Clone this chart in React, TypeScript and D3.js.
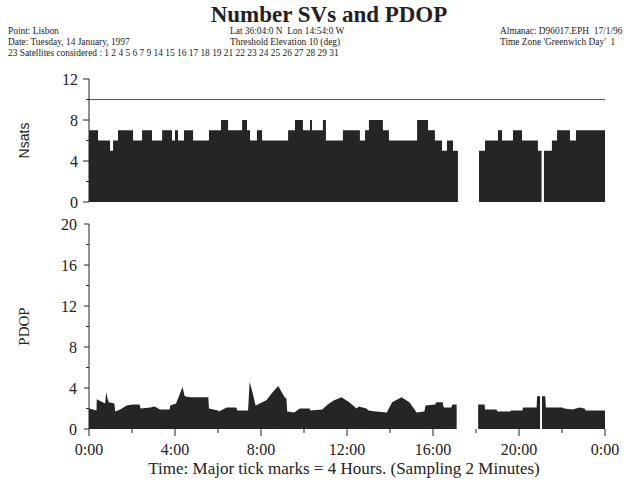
import React from 'react';
import * as d3 from 'd3';

// ---- data ----
const nsatsHours = [0, 0.42, 0.98, 1.12, 1.35, 2.05, 2.47, 2.93, 3.40, 3.86, 4.00, 4.14, 4.42, 4.84, 5.58, 6.14, 6.47, 7.12, 7.35, 7.49, 7.81, 8.05, 9.26, 9.58, 9.95, 10.28, 10.37, 10.88, 11.02, 11.81, 12.60, 12.84, 13.02, 13.67, 13.95, 15.26, 15.77, 16.09, 16.42, 16.65, 16.93, 17.16, 17.17, 18.14, 18.42, 19.02, 19.21, 19.72, 20.14, 20.88, 21.05, 21.06, 21.16, 21.53, 21.77, 22.37, 22.65, 24.0];
const nsatsValues: (number | null)[] = [7, 6, 5, 6, 7, 6, 7, 6, 7, 6, 7, 6, 7, 6, 7, 8, 7, 8, 7, 6, 7, 6, 7, 8, 7, 8, 7, 8, 6, 7, 6, 7, 8, 7, 6, 8, 7, 6, 5, 6, 5, 5, null, 5, 6, 7, 6, 7, 6, 5, 5, null, 5, 6, 7, 6, 7, 7];

const pdopHours = [0, 0.35, 0.36, 0.75, 0.80, 0.86, 0.92, 1.18, 1.22, 1.45, 1.75, 2.05, 2.35, 2.40, 2.85, 3.05, 3.30, 3.75, 3.78, 4.05, 4.35, 4.45, 4.70, 5.55, 5.58, 6.00, 6.05, 6.40, 6.85, 6.90, 7.40, 7.47, 7.60, 7.75, 8.25, 8.55, 8.80, 9.10, 9.18, 9.22, 9.55, 9.80, 10.25, 10.30, 10.85, 11.10, 11.40, 11.75, 12.10, 12.45, 12.55, 12.90, 13.00, 13.35, 13.85, 14.10, 14.54, 14.90, 15.24, 15.60, 15.65, 16.10, 16.15, 16.45, 16.50, 16.85, 16.90, 17.10, 17.11, 18.10, 18.40, 18.42, 18.95, 19.00, 19.60, 19.62, 20.15, 20.20, 20.82, 20.84, 20.98, 20.99, 21.07, 21.22, 21.25, 22.00, 22.10, 22.50, 22.80, 23.05, 23.10, 24.00];
const pdopValues: (number | null)[] = [2.0, 1.8, 2.9, 2.5, 3.6, 3.0, 2.6, 2.5, 1.7, 1.9, 2.3, 2.4, 2.4, 2.0, 2.1, 2.2, 1.9, 1.9, 2.3, 2.5, 4.1, 3.2, 3.1, 3.1, 2.0, 1.8, 1.7, 2.1, 2.1, 1.8, 1.8, 4.6, 3.6, 2.3, 2.8, 3.6, 4.2, 3.1, 3.0, 1.7, 1.6, 2.0, 2.0, 1.8, 1.9, 2.4, 2.8, 3.1, 2.6, 2.0, 2.2, 2.0, 1.8, 1.7, 1.6, 2.6, 3.1, 2.6, 1.6, 1.7, 2.3, 2.4, 2.6, 2.6, 2.1, 2.1, 2.4, 2.4, null, 2.4, 2.4, 1.9, 1.9, 1.7, 1.7, 1.8, 1.8, 2.1, 2.1, 3.2, 3.2, null, 3.2, 3.2, 2.1, 2.1, 2.0, 1.9, 2.1, 2.0, 1.8, 1.8];

const thresholdLine = 10;
const xMajorTicks = [0, 4, 8, 12, 16, 20, 24];
const xMinorTicks = [2, 6, 10, 14, 18, 22];
const xTickLabels = ['0:00', '4:00', '8:00', '12:00', '16:00', '20:00', '0:00'];
const nsatsMajorTicks = [0, 4, 8, 12];
const nsatsMinorTicks = [2, 6, 10];
const pdopMajorTicks = [0, 4, 8, 12, 16, 20];
const pdopMinorTicks = [2, 6, 10, 14, 18];

const titleText = 'Number SVs and PDOP';
const headerCol1 = ['Point: Lisbon', 'Date: Tuesday, 14 January, 1997', '23 Satellites considered : 1 2 4 5 6 7 9 14 15 16 17 18 19 21 22 23 24 25 26 27 28 29 31'];
const headerCol2 = ['Lat 36:04:0 N  Lon 14:54:0 W', 'Threshold Elevation 10 (deg)'];
const headerCol3 = ['Almanac: D96017.EPH  17/1/96', "Time Zone 'Greenwich Day'  1"];
const xAxisTitle = 'Time: Major tick marks = 4 Hours. (Sampling 2 Minutes)';

const serif = '"Liberation Serif", "Times New Roman", serif';
const sans = '"Liberation Sans", Arial, sans-serif';
const ink = '#222';
const fillInk = '#252525';

export default function App() {
  const x = d3.scaleLinear().domain([0, 24]).range([89, 605]);
  const yN = d3.scaleLinear().domain([0, 12]).range([202, 79]);
  const yP = d3.scaleLinear().domain([0, 20]).range([429, 224]);

  const nsData = nsatsHours.map((h, i) => [h, nsatsValues[i]] as [number, number | null]);
  const pdData = pdopHours.map((h, i) => [h, pdopValues[i]] as [number, number | null]);

  const nsArea = d3.area<[number, number | null]>()
    .defined(d => d[1] != null)
    .x(d => x(d[0]))
    .y0(yN(0))
    .y1(d => yN(d[1] as number))
    .curve(d3.curveStepAfter);

  const pdArea = d3.area<[number, number | null]>()
    .defined(d => d[1] != null)
    .x(d => x(d[0]))
    .y0(yP(0))
    .y1(d => yP(d[1] as number))
    .curve(d3.curveLinear);

  return (
    <svg width={630} height={482} style={{ position: 'absolute', left: 0, top: 0, background: '#fff' }}>
      <rect x={0} y={0} width={630} height={482} fill="#fff" />
      {/* Title */}
      <text x={329} y={22} textAnchor="middle" fontFamily={serif} fontWeight="bold" fontSize={23} fill={ink}>{titleText}</text>
      {headerCol1.map((t, i) => (
        <text key={'c1' + i} x={8} y={34 + i * 11} fontFamily={serif} fontSize={9.4} fill={ink} xmlSpace="preserve" style={{ whiteSpace: 'pre' }}>{t}</text>
      ))}
      {headerCol2.map((t, i) => (
        <text key={'c2' + i} x={230} y={34 + i * 11} fontFamily={serif} fontSize={9.4} fill={ink} xmlSpace="preserve" style={{ whiteSpace: 'pre' }}>{t}</text>
      ))}
      {headerCol3.map((t, i) => (
        <text key={'c3' + i} x={500} y={34 + i * 11} fontFamily={serif} fontSize={9.4} fill={ink} xmlSpace="preserve" style={{ whiteSpace: 'pre' }}>{t}</text>
      ))}

      {/* Nsats panel */}
      <path d={nsArea(nsData) || ''} fill={fillInk} />
      <line x1={x(0)} x2={x(24)} y1={yN(thresholdLine)} y2={yN(thresholdLine)} stroke="#555" strokeWidth={1} />
      <line x1={x(0)} x2={x(0)} y1={yN(12)} y2={yN(0)} stroke={ink} strokeWidth={1} />
      {nsatsMajorTicks.map(v => (
        <g key={'nm' + v}>
          <line x1={x(0) - 6} x2={x(0)} y1={yN(v)} y2={yN(v)} stroke={ink} />
          <text x={78} y={yN(v) + 5.5} textAnchor="end" fontFamily={serif} fontSize={16} fill={ink}>{v}</text>
        </g>
      ))}
      {nsatsMinorTicks.map(v => (
        <line key={'nn' + v} x1={x(0) - 3} x2={x(0)} y1={yN(v)} y2={yN(v)} stroke={ink} />
      ))}
      <text transform={`translate(29, ${yN(6)}) rotate(-90)`} textAnchor="middle" fontFamily={sans} fontSize={14} fill={ink}>Nsats</text>

      {/* PDOP panel */}
      <path d={pdArea(pdData) || ''} fill={fillInk} />
      <line x1={x(0)} x2={x(0)} y1={yP(20)} y2={yP(0)} stroke={ink} strokeWidth={1} />
      {pdopMajorTicks.map(v => (
        <g key={'pm' + v}>
          <line x1={x(0) - 5} x2={x(0)} y1={yP(v)} y2={yP(v)} stroke={ink} />
          <text x={77} y={yP(v) + 5.5} textAnchor="end" fontFamily={serif} fontSize={16} fill={ink}>{v}</text>
        </g>
      ))}
      {pdopMinorTicks.map(v => (
        <line key={'pn' + v} x1={x(0) - 3} x2={x(0)} y1={yP(v)} y2={yP(v)} stroke={ink} />
      ))}
      <text transform={`translate(29, ${yP(10)}) rotate(-90)`} textAnchor="middle" fontFamily={serif} fontSize={15} fill={ink}>PDOP</text>

      {/* X axis ticks */}
      {xMajorTicks.map((h, i) => (
        <g key={'xm' + h}>
          <line x1={x(h)} x2={x(h)} y1={yP(0)} y2={yP(0) + 7} stroke={ink} />
          <text x={x(h)} y={455} textAnchor="middle" fontFamily={serif} fontSize={16} fill={ink}>{xTickLabels[i]}</text>
        </g>
      ))}
      {xMinorTicks.map(h => (
        <line key={'xn' + h} x1={x(h)} x2={x(h)} y1={yP(0)} y2={yP(0) + 4} stroke={ink} />
      ))}
      <text x={344} y={474} textAnchor="middle" fontFamily={serif} fontSize={17} fill={ink}>{xAxisTitle}</text>
    </svg>
  );
}
